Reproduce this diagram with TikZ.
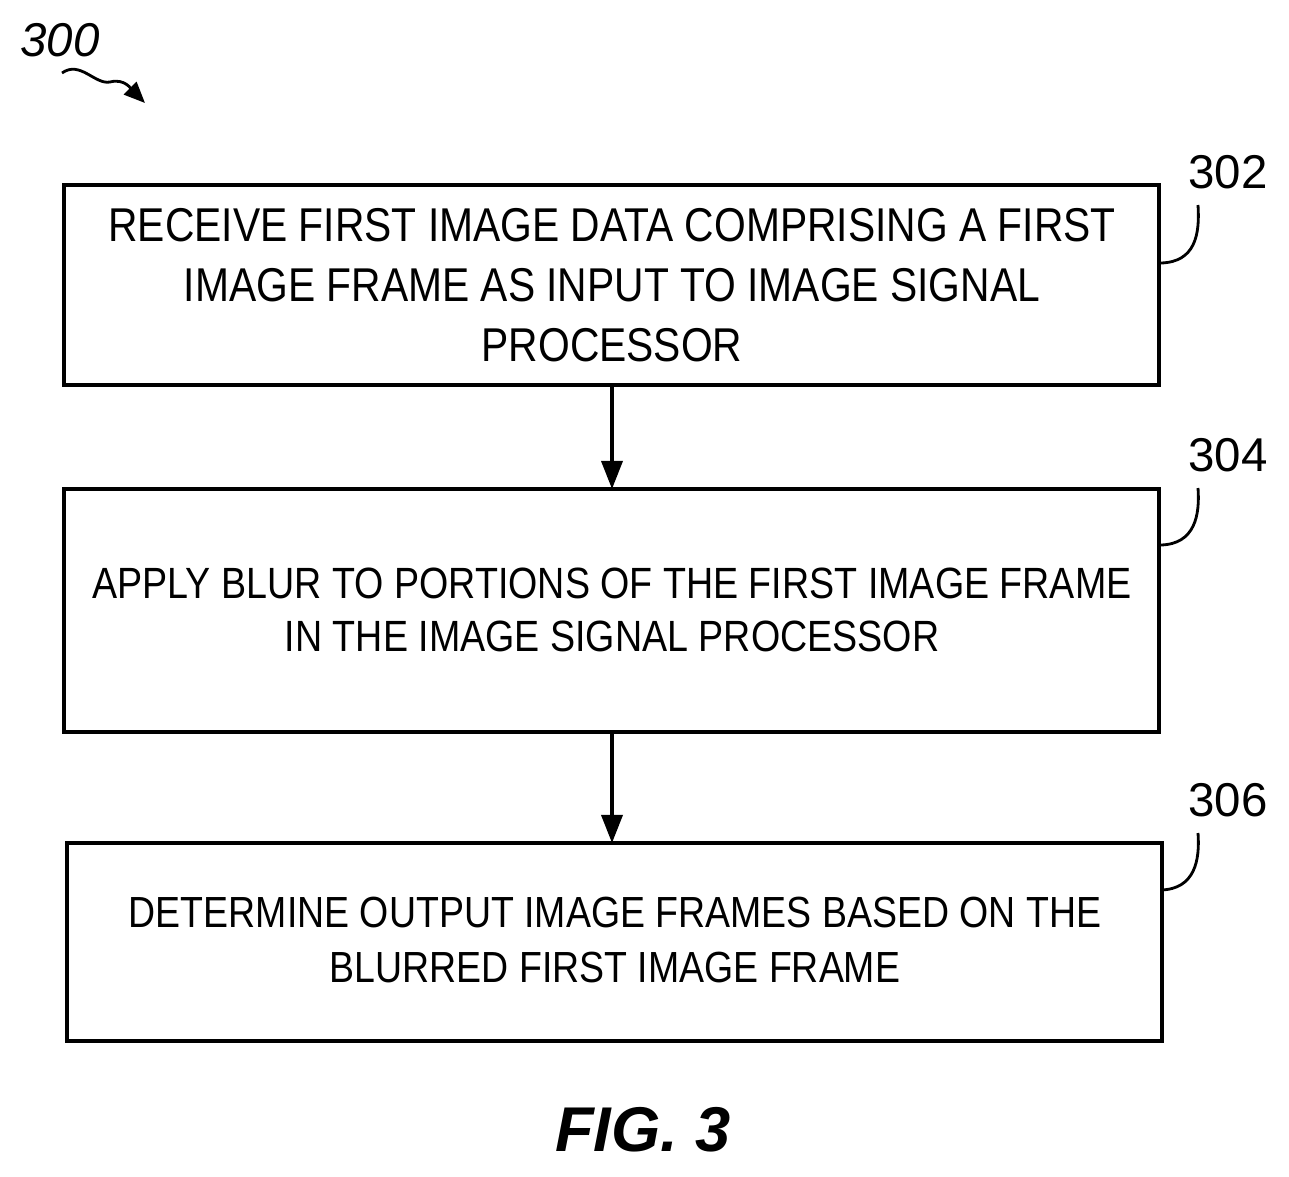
\documentclass[tikz,border=0pt]{standalone}
\usepackage{fontspec}
\setmainfont{Liberation Sans}
\newfontfamily\boxfont[FakeStretch=0.86]{Liberation Sans}
\usetikzlibrary{arrows.meta}
\begin{document}
\begin{tikzpicture}[x=0.02cm,y=-0.02cm,
  box/.style={draw,line width=2pt,inner sep=0pt},
  txt/.style={align=center},
  arr/.style={line width=2pt,-{Triangle[length=16pt,width=12pt]}},
  lead/.style={line width=1.6pt},
  lab/.style={font=\fontsize{27}{31}\selectfont}]
\useasboundingbox (0,0) rectangle (1289,1177);
\draw[box] (64,185) rectangle (1159,385);
\coordinate (b1) at (612,385);
\node[txt,font=\boxfont\fontsize{27}{34}\selectfont] (t1) at (612,285) {RECEIVE FIRST IMAGE DATA COMPRISING A FIRST\\IMAGE FRAME AS INPUT TO IMAGE SIGNAL\\PROCESSOR};
\draw[box] (64,489) rectangle (1159,732);
\coordinate (a2) at (612,489); \coordinate (b2) at (612,732);
\node[txt,font=\boxfont\fontsize{24.9}{30.6}\selectfont] (t2) at (612,610) {APPLY BLUR TO PORTIONS OF THE FIRST IMAGE FRAME\\IN THE IMAGE SIGNAL PROCESSOR};
\draw[box] (67,843) rectangle (1162,1041);
\coordinate (a3) at (612,843);
\node[txt,font=\boxfont\fontsize{24.8}{31}\selectfont] (t3) at (615,940) {DETERMINE OUTPUT IMAGE FRAMES BASED ON THE\\BLURRED FIRST IMAGE FRAME};
\draw[arr] (b1) -- (a2);
\draw[arr] (b2) -- (a3);
\node[lab] (l1) at (1228,172) {302};
\node[lab] (l2) at (1228,455) {304};
\node[lab] (l3) at (1228,800) {306};
\draw[lead] (1161,263) .. controls (1195,262) and (1200,235) .. (1198,205);
\draw[lead] (1161,545) .. controls (1195,544) and (1200,515) .. (1198,488);
\draw[lead] (1161,890) .. controls (1195,889) and (1200,860) .. (1198,833);
\node[font=\itshape\fontsize{27}{31}\selectfont] (n300) at (60,40) {300};
\draw[line width=1.6pt,-{Triangle[length=12pt,width=10pt]}] (62,73) .. controls (80,60) and (95,85) .. (110,82) .. controls (125,78) and (132,90) .. (145,103);
\node[font=\bfseries\itshape\fontsize{36}{42}\selectfont] (fig) at (643,1130) {FIG. 3};
\end{tikzpicture}
\end{document}
